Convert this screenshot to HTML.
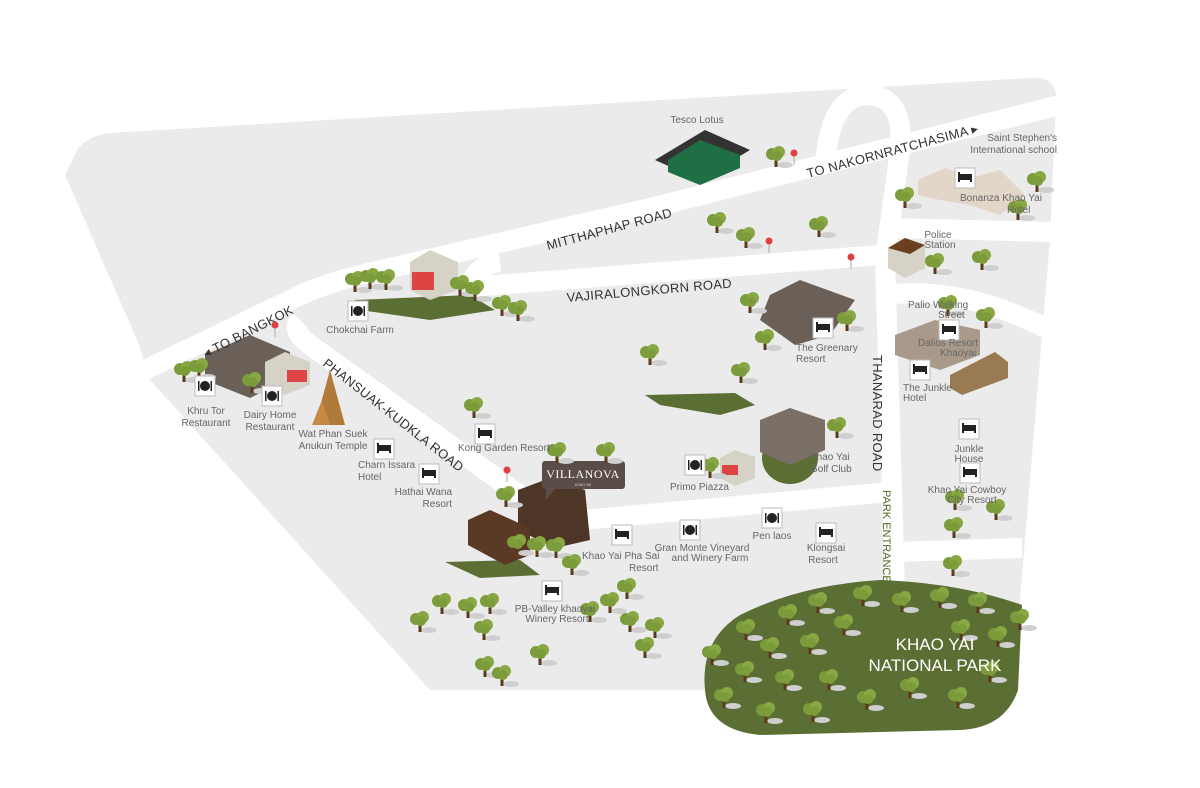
<!DOCTYPE html>
<html><head><meta charset="utf-8"><style>
html,body{margin:0;padding:0;background:#fff;}
svg{display:block;}
text{font-family:"Liberation Sans",sans-serif;}
.l{font-size:10px;fill:#666;}
.r{font-size:13px;fill:#333;letter-spacing:0.3px;}
</style></head><body>
<svg width="1200" height="788" viewBox="0 0 1200 788" xmlns="http://www.w3.org/2000/svg">
<defs>
<g id="t">
<ellipse cx="9" cy="8" rx="8" ry="3" fill="#cfcfcf"/>
<rect x="-1.5" y="0" width="3" height="10" fill="#5b3a1c"/>
<circle cx="-4" cy="-3" r="6" fill="#7c9b3b"/>
<circle cx="3" cy="-5" r="6" fill="#88a844"/>
<circle cx="1" cy="-1" r="5" fill="#7c9b3b"/>
</g>
<g id="bed"><rect x="-10" y="-10" width="20" height="20" fill="#fff" stroke="#bbb"/><rect x="-7" y="-4" width="14" height="6" fill="#222"/><rect x="-7" y="-6" width="2" height="10" fill="#222"/><rect x="5" y="-3" width="2" height="7" fill="#222"/></g>
<g id="food"><rect x="-10" y="-10" width="20" height="20" fill="#fff" stroke="#bbb"/><circle r="5" fill="#222"/><rect x="-7" y="-5" width="1.5" height="10" fill="#222"/><rect x="5.5" y="-5" width="1.5" height="10" fill="#222"/></g>
<g id="stop"><line x1="0" y1="0" x2="0" y2="12" stroke="#aaa"/><circle r="3.5" fill="#e04040"/></g>
</defs>

<!-- base -->
<path d="M78,148 Q90,135 110,133 L1030,78 Q1058,76 1056,100 L1050,240 L1020,600 L1015,690 L430,690 L150,380 Z" fill="#ebebeb"/>
<path d="M78,148 L65,175 L150,370 L150,380 Z" fill="#ebebeb"/>

<!-- roads -->
<g fill="none" stroke="#fff" stroke-width="20" stroke-linecap="butt">
<path d="M145,370 L290,300 Q320,285 360,275 L650,208 L1060,105"/>
<path d="M470,287 L880,255"/>
<path d="M300,320 Q290,330 310,345 L520,495 L560,522"/>
<path d="M560,522 L890,492"/>
<path d="M825,165 Q830,95 868,95 Q905,97 900,150 L885,260 L895,590"/>
<path d="M888,228 L1055,232"/>
<path d="M888,295 Q960,285 1050,330"/>
<path d="M895,552 L1022,548"/>
<path d="M470,287 Q475,265 500,262"/>
</g>

<!-- park -->
<path d="M705,690 Q700,640 740,615 Q800,585 880,580 Q960,583 1022,605 L1018,690 Q1005,728 960,730 L760,735 Q708,730 705,690 Z" fill="#5b6e33"/>

<!-- pastures -->
<path d="M355,300 L470,295 L495,310 L430,320 L360,310 Z" fill="#5b6e33"/>
<path d="M645,395 L735,393 L755,405 L720,415 L660,405 Z" fill="#5b6e33"/>
<path d="M445,562 L520,560 L540,575 L480,578 Z" fill="#5b6e33"/>
<ellipse cx="790" cy="458" rx="28" ry="26" fill="#5b6e33"/>

<!-- buildings -->
<path d="M655,160 L705,130 L750,150 L700,180 Z" fill="#333"/>
<path d="M668,160 L700,140 L740,155 L740,168 L700,185 L668,172 Z" fill="#1e6e46"/>
<path d="M410,262 L430,250 L458,262 L458,290 L430,300 L410,290 Z" fill="#d6d2c6"/>
<rect x="412" y="272" width="22" height="18" fill="#d44"/>
<path d="M205,355 L250,335 L290,352 L290,378 L250,398 L205,380 Z" fill="#6a6058"/>
<path d="M265,362 L285,352 L310,362 L310,385 L285,395 L265,385 Z" fill="#d6d2c6"/>
<rect x="287" y="370" width="20" height="12" fill="#d44"/>
<path d="M315,425 L330,370 L345,425 Z" fill="#b07a3b"/>
<path d="M312,425 L322,400 L330,425 Z" fill="#c58a45"/>
<path d="M770,295 L800,280 L855,300 L830,335 L795,345 L760,320 Z" fill="#6a6058"/>
<path d="M888,248 L905,238 L925,245 L925,268 L905,278 L888,268 Z" fill="#d6d2c6"/>
<path d="M888,248 L905,238 L925,245 L910,254 Z" fill="#6a4020"/>
<path d="M918,180 L945,168 L970,178 L1000,170 L1025,195 L1000,215 L970,205 L940,200 L918,195 Z" fill="#e2d6c8"/>
<path d="M895,335 L935,320 L980,330 L980,355 L940,370 L895,355 Z" fill="#a9998a"/>
<path d="M950,375 L995,352 L1008,362 L1008,378 L962,395 L950,388 Z" fill="#9a7a52"/>
<path d="M760,420 L790,408 L825,420 L825,450 L790,465 L760,452 Z" fill="#7a7068"/>
<path d="M720,458 L735,450 L755,457 L755,478 L735,486 L720,478 Z" fill="#d6d2c6"/>
<rect x="722" y="465" width="16" height="10" fill="#d44"/>
<path d="M518,490 L550,478 L585,490 L590,540 L555,548 L518,530 Z" fill="#4e3626"/>
<path d="M468,520 L490,510 L530,528 L530,555 L505,565 L468,545 Z" fill="#5a3a25"/>
<rect x="542" y="461" width="83" height="28" rx="3" fill="#5a4c47"/>
<path d="M546,488 L546,500 L556,488 Z" fill="#5a4c47"/>
<text x="583" y="478" text-anchor="middle" style="font-family:'Liberation Serif',serif;font-size:12px;fill:#fff;letter-spacing:0.5px">VILLANOVA</text>
<text x="583" y="486" text-anchor="middle" style="font-size:3.5px;fill:#ddd">KHAO YAI</text>

<!-- trees -->
<g>
<use href="#t" x="776" y="157"/><use href="#t" x="717" y="223"/><use href="#t" x="746" y="238"/><use href="#t" x="819" y="227"/>
<use href="#t" x="750" y="303"/><use href="#t" x="765" y="340"/><use href="#t" x="650" y="355"/><use href="#t" x="741" y="373"/><use href="#t" x="847" y="321"/><use href="#t" x="837" y="428"/>
<use href="#t" x="474" y="408"/><use href="#t" x="557" y="453"/><use href="#t" x="506" y="497"/><use href="#t" x="606" y="453"/>
<use href="#t" x="517" y="545"/><use href="#t" x="537" y="547"/><use href="#t" x="556" y="548"/><use href="#t" x="572" y="565"/>
<use href="#t" x="420" y="622"/><use href="#t" x="442" y="604"/><use href="#t" x="468" y="608"/><use href="#t" x="490" y="604"/><use href="#t" x="484" y="630"/>
<use href="#t" x="540" y="655"/><use href="#t" x="485" y="667"/><use href="#t" x="502" y="676"/><use href="#t" x="610" y="603"/><use href="#t" x="627" y="589"/>
<use href="#t" x="630" y="622"/><use href="#t" x="655" y="628"/><use href="#t" x="645" y="648"/><use href="#t" x="590" y="612"/>
<use href="#t" x="184" y="372"/><use href="#t" x="199" y="369"/><use href="#t" x="252" y="383"/>
<use href="#t" x="355" y="282"/><use href="#t" x="370" y="279"/><use href="#t" x="386" y="280"/><use href="#t" x="460" y="286"/><use href="#t" x="475" y="291"/><use href="#t" x="502" y="306"/><use href="#t" x="518" y="311"/>
<use href="#t" x="905" y="198"/><use href="#t" x="1037" y="182"/><use href="#t" x="1018" y="210"/><use href="#t" x="935" y="264"/><use href="#t" x="982" y="260"/><use href="#t" x="948" y="306"/><use href="#t" x="986" y="318"/>
<use href="#t" x="955" y="500"/><use href="#t" x="996" y="510"/><use href="#t" x="954" y="528"/><use href="#t" x="953" y="566"/><use href="#t" x="710" y="468"/>
<use href="#t" x="746" y="630"/><use href="#t" x="788" y="615"/><use href="#t" x="818" y="603"/><use href="#t" x="863" y="596"/><use href="#t" x="902" y="602"/><use href="#t" x="940" y="598"/><use href="#t" x="978" y="603"/>
<use href="#t" x="712" y="655"/><use href="#t" x="770" y="648"/><use href="#t" x="810" y="644"/><use href="#t" x="844" y="625"/><use href="#t" x="961" y="630"/><use href="#t" x="998" y="637"/>
<use href="#t" x="745" y="672"/><use href="#t" x="785" y="680"/><use href="#t" x="829" y="680"/><use href="#t" x="910" y="688"/><use href="#t" x="958" y="698"/><use href="#t" x="990" y="672"/>
<use href="#t" x="724" y="698"/><use href="#t" x="766" y="713"/><use href="#t" x="813" y="712"/><use href="#t" x="867" y="700"/><use href="#t" x="1020" y="620"/>
</g>

<!-- road labels -->
<text class="r" transform="translate(548,250) rotate(-15)">MITTHAPHAP ROAD</text>
<text class="r" transform="translate(567,302) rotate(-5)">VAJIRALONGKORN ROAD</text>
<text class="r" transform="translate(808,178) rotate(-15)">TO NAKORNRATCHASIMA ▸</text>
<text class="r" transform="translate(206,358) rotate(-27)">◂ TO BANGKOK</text>
<text class="r" transform="translate(322,365) rotate(38)">PHANSUAK-KUDKLA ROAD</text>
<text class="r" transform="translate(873,355) rotate(90)">THANARAD ROAD</text>
<text transform="translate(883,490) rotate(90)" style="font-size:11px;fill:#4a6a20">PARK ENTRANCE</text>
<text x="935" y="650" text-anchor="middle" style="font-size:17px;fill:#fff">KHAO YAI</text>
<text x="935" y="671" text-anchor="middle" style="font-size:17px;fill:#fff">NATIONAL PARK</text>

<!-- icons -->
<use href="#food" x="205" y="386"/><use href="#food" x="272" y="396"/><use href="#food" x="358" y="311"/>
<use href="#bed" x="384" y="449"/><use href="#bed" x="429" y="474"/><use href="#bed" x="485" y="434"/><use href="#bed" x="622" y="535"/>
<use href="#food" x="690" y="530"/><use href="#food" x="772" y="518"/><use href="#bed" x="826" y="533"/><use href="#food" x="695" y="465"/>
<use href="#bed" x="823" y="328"/><use href="#bed" x="965" y="178"/><use href="#bed" x="949" y="330"/><use href="#bed" x="920" y="370"/>
<use href="#bed" x="969" y="429"/><use href="#bed" x="970" y="473"/><use href="#bed" x="552" y="591"/>
<use href="#stop" x="275" y="325"/><use href="#stop" x="794" y="153"/><use href="#stop" x="769" y="241"/><use href="#stop" x="851" y="257"/><use href="#stop" x="507" y="470"/>

<!-- place labels -->
<g class="l">
<text x="697" y="123" text-anchor="middle">Tesco Lotus</text>
<text x="1057" y="141" text-anchor="end">Saint Stephen's</text>
<text x="1057" y="153" text-anchor="end">International school</text>
<text x="960" y="201">Bonanza Khao Yai</text>
<text x="1007" y="213">Hotel</text>
<text x="938" y="238" text-anchor="middle">Police</text>
<text x="940" y="248" text-anchor="middle">Station</text>
<text x="908" y="308">Palio Walking</text>
<text x="938" y="318">Street</text>
<text x="918" y="346">Dalios Resort</text>
<text x="940" y="356">Khaoyai</text>
<text x="903" y="391">The Junkle</text>
<text x="903" y="401">Hotel</text>
<text x="969" y="452" text-anchor="middle">Junkle</text>
<text x="969" y="462" text-anchor="middle">House</text>
<text x="967" y="493" text-anchor="middle">Khao Yai Cowboy</text>
<text x="972" y="503" text-anchor="middle">City Resort</text>
<text x="796" y="351">The Greenary</text>
<text x="796" y="362">Resort</text>
<text x="810" y="460">Khao Yai</text>
<text x="810" y="472">Golf Club</text>
<text x="670" y="490">Primo Piazza</text>
<text x="772" y="539" text-anchor="middle">Pen laos</text>
<text x="826" y="551" text-anchor="middle">Klongsai</text>
<text x="823" y="563" text-anchor="middle">Resort</text>
<text x="702" y="551" text-anchor="middle">Gran Monte Vineyard</text>
<text x="710" y="561" text-anchor="middle">and Winery Farm</text>
<text x="582" y="559">Khao Yai Pha Sai</text>
<text x="629" y="571">Resort</text>
<text x="555" y="612" text-anchor="middle">PB-Valley khaoyai</text>
<text x="557" y="622" text-anchor="middle">Winery Resort</text>
<text x="458" y="451">Kong Garden Resort</text>
<text x="358" y="468">Charn Issara</text>
<text x="358" y="480">Hotel</text>
<text x="452" y="495" text-anchor="end">Hathai Wana</text>
<text x="452" y="507" text-anchor="end">Resort</text>
<text x="333" y="437" text-anchor="middle">Wat Phan Suek</text>
<text x="333" y="449" text-anchor="middle">Anukun Temple</text>
<text x="270" y="418" text-anchor="middle">Dairy Home</text>
<text x="270" y="430" text-anchor="middle">Restaurant</text>
<text x="206" y="414" text-anchor="middle">Khru Tor</text>
<text x="206" y="426" text-anchor="middle">Restaurant</text>
<text x="360" y="333" text-anchor="middle">Chokchai Farm</text>
</g>
</svg>
</body></html>
